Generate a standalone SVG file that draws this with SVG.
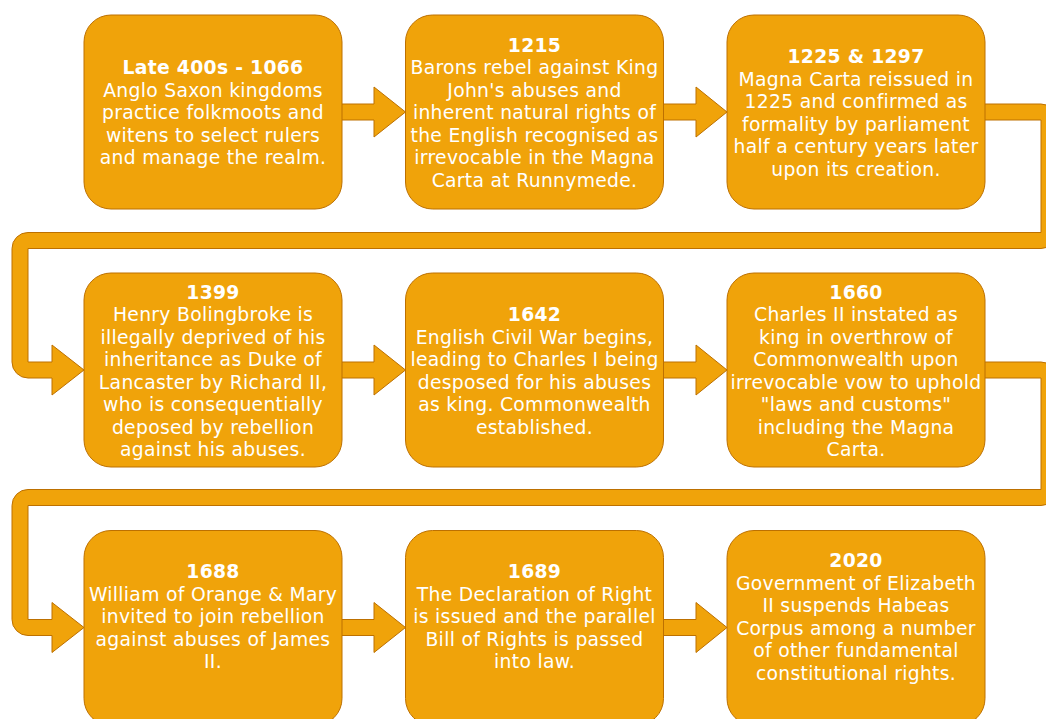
<svg xmlns="http://www.w3.org/2000/svg" width="1046" height="719" viewBox="0 0 1046 719">
<style>
.box{fill:#F0A30A;stroke:#BD7000;stroke-width:1}
.arr{fill:#F0A30A;stroke:#BD7000;stroke-width:1;stroke-linejoin:miter}
.t{font-family:"DejaVu Sans",Verdana,sans-serif;font-size:18.75px;fill:#FFFFFF;text-anchor:middle;letter-spacing:0.3px}
.h{font-weight:bold}
</style>
<rect width="1046" height="719" fill="#FFFFFF"/>
<g id="connectors">
<path class="arr" d="M336 104 H374 V87 L405.5 112 L374 137 V120 H336 Z"/>
<path class="arr" d="M658 104 H696 V87 L727 112 L696 137 V120 H658 Z"/>
<path class="arr" d="M980 104 H1041 A16 16 0 0 1 1057 120 V232.5 A16 16 0 0 1 1041 248.5 H28 V362 H52 V345 L84 370 L52 395 V378 H28 A16 16 0 0 1 12 362 V248.5 A16 16 0 0 1 28 232.5 H1041 V120 H980 Z"/>
<path class="arr" d="M336 362 H374 V345 L405.5 370 L374 395 V378 H336 Z"/>
<path class="arr" d="M658 362 H696 V345 L727 370 L696 395 V378 H658 Z"/>
<path class="arr" d="M980 362 H1041 A16 16 0 0 1 1057 378 V489.5 A16 16 0 0 1 1041 505.5 H28 V619.5 H52 V602.5 L84 627.5 L52 652.5 V635.5 H28 A16 16 0 0 1 12 619.5 V505.5 A16 16 0 0 1 28 489.5 H1041 V378 H980 Z"/>
<path class="arr" d="M336 619.5 H374 V602.5 L405.5 627.5 L374 652.5 V635.5 H336 Z"/>
<path class="arr" d="M658 619.5 H696 V602.5 L727 627.5 L696 652.5 V635.5 H658 Z"/>
</g>
<g id="n1">
<rect class="box" x="84" y="15" width="258" height="194" rx="27"/>
<text class="t" x="213" y="74.25"><tspan class="h" x="213">Late 400s - 1066</tspan><tspan x="213" dy="22.5">Anglo Saxon kingdoms</tspan><tspan x="213" dy="22.5">practice folkmoots and</tspan><tspan x="213" dy="22.5">witens to select rulers</tspan><tspan x="213" dy="22.5">and manage the realm.</tspan></text>
</g>
<g id="n2">
<rect class="box" x="405.5" y="15" width="258" height="194" rx="27"/>
<text class="t" x="534.5" y="51.75"><tspan class="h" x="534.5">1215</tspan><tspan x="534.5" dy="22.5">Barons rebel against King</tspan><tspan x="534.5" dy="22.5">John's abuses and</tspan><tspan x="534.5" dy="22.5">inherent natural rights of</tspan><tspan x="534.5" dy="22.5">the English recognised as</tspan><tspan x="534.5" dy="22.5">irrevocable in the Magna</tspan><tspan x="534.5" dy="22.5">Carta at Runnymede.</tspan></text>
</g>
<g id="n3">
<rect class="box" x="727" y="15" width="258" height="194" rx="27"/>
<text class="t" x="856" y="63"><tspan class="h" x="856">1225 &amp; 1297</tspan><tspan x="856" dy="22.5">Magna Carta reissued in</tspan><tspan x="856" dy="22.5">1225 and confirmed as</tspan><tspan x="856" dy="22.5">formality by parliament</tspan><tspan x="856" dy="22.5">half a century years later</tspan><tspan x="856" dy="22.5">upon its creation.</tspan></text>
</g>
<g id="n4">
<rect class="box" x="84" y="273" width="258" height="194" rx="27"/>
<text class="t" x="213" y="298.5"><tspan class="h" x="213">1399</tspan><tspan x="213" dy="22.5">Henry Bolingbroke is</tspan><tspan x="213" dy="22.5">illegally deprived of his</tspan><tspan x="213" dy="22.5">inheritance as Duke of</tspan><tspan x="213" dy="22.5">Lancaster by Richard II,</tspan><tspan x="213" dy="22.5">who is consequentially</tspan><tspan x="213" dy="22.5">deposed by rebellion</tspan><tspan x="213" dy="22.5">against his abuses.</tspan></text>
</g>
<g id="n5">
<rect class="box" x="405.5" y="273" width="258" height="194" rx="27"/>
<text class="t" x="534.5" y="321"><tspan class="h" x="534.5">1642</tspan><tspan x="534.5" dy="22.5">English Civil War begins,</tspan><tspan x="534.5" dy="22.5">leading to Charles I being</tspan><tspan x="534.5" dy="22.5">desposed for his abuses</tspan><tspan x="534.5" dy="22.5">as king. Commonwealth</tspan><tspan x="534.5" dy="22.5">established.</tspan></text>
</g>
<g id="n6">
<rect class="box" x="727" y="273" width="258" height="194" rx="27"/>
<text class="t" x="856" y="298.5"><tspan class="h" x="856">1660</tspan><tspan x="856" dy="22.5">Charles II instated as</tspan><tspan x="856" dy="22.5">king in overthrow of</tspan><tspan x="856" dy="22.5">Commonwealth upon</tspan><tspan x="856" dy="22.5">irrevocable vow to uphold</tspan><tspan x="856" dy="22.5">"laws and customs"</tspan><tspan x="856" dy="22.5">including the Magna</tspan><tspan x="856" dy="22.5">Carta.</tspan></text>
</g>
<g id="n7">
<rect class="box" x="84" y="530.5" width="258" height="195" rx="27"/>
<text class="t" x="213" y="578.25"><tspan class="h" x="213">1688</tspan><tspan x="213" dy="22.5">William of Orange &amp; Mary</tspan><tspan x="213" dy="22.5">invited to join rebellion</tspan><tspan x="213" dy="22.5">against abuses of James</tspan><tspan x="213" dy="22.5">II.</tspan></text>
</g>
<g id="n8">
<rect class="box" x="405.5" y="530.5" width="258" height="195" rx="27"/>
<text class="t" x="534.5" y="578.25"><tspan class="h" x="534.5">1689</tspan><tspan x="534.5" dy="22.5">The Declaration of Right</tspan><tspan x="534.5" dy="22.5">is issued and the parallel</tspan><tspan x="534.5" dy="22.5">Bill of Rights is passed</tspan><tspan x="534.5" dy="22.5">into law.</tspan></text>
</g>
<g id="n9">
<rect class="box" x="727" y="530.5" width="258" height="195" rx="27"/>
<text class="t" x="856" y="567"><tspan class="h" x="856">2020</tspan><tspan x="856" dy="22.5">Government of Elizabeth</tspan><tspan x="856" dy="22.5">II suspends Habeas</tspan><tspan x="856" dy="22.5">Corpus among a number</tspan><tspan x="856" dy="22.5">of other fundamental</tspan><tspan x="856" dy="22.5">constitutional rights.</tspan></text>
</g>
</svg>
